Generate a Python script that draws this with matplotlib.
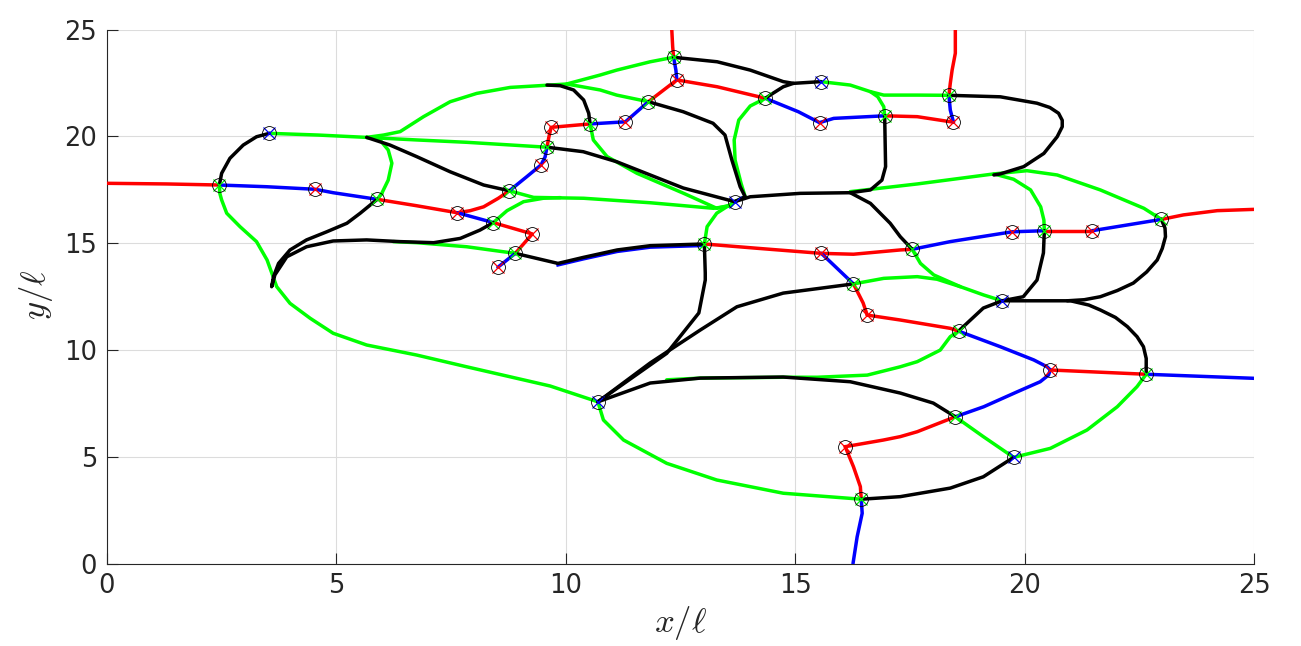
import matplotlib
matplotlib.use("Agg")
import matplotlib.pyplot as plt
from matplotlib import transforms

plt.rcParams['mathtext.fontset'] = 'cm'
plt.rcParams['font.family'] = ['DejaVu Sans']

# ---- red edges
red_in_left = [(0.00, 17.80), (1.30, 17.77), (2.45, 17.72)]
red_4_5 = [(5.89, 17.05), (6.75, 16.75), (7.64, 16.42)]
red_5_7 = [(7.64, 16.42), (7.92, 16.52), (8.21, 16.70), (8.53, 17.10), (8.77, 17.45)]
red_6_9 = [(8.42, 15.96), (9.27, 15.43), (8.90, 14.52)]
red_12_14 = [(9.59, 19.49), (9.63, 19.95), (9.68, 20.42), (10.53, 20.58)]
red_16_19 = [(11.80, 21.62), (12.42, 22.64), (13.30, 22.32), (14.35, 21.78)]
red_top_a = [(12.31, 25.00), (12.33, 24.19), (12.35, 23.70)]
red_22_29 = [(16.95, 20.96), (17.66, 20.92), (18.45, 20.66)]
red_top_b = [(18.49, 25.00), (18.49, 23.89), (18.42, 23.10), (18.38, 22.48), (18.35, 21.92)]
red_24_30 = [(13.02, 14.96), (14.16, 14.76), (15.57, 14.52), (16.27, 14.48), (17.29, 14.68), (17.55, 14.71)]
red_32_33 = [(20.43, 15.58), (21.47, 15.58)]
red_out_right = [(22.98, 16.11), (23.46, 16.32), (24.20, 16.52), (25.00, 16.58)]
red_26_27 = [(16.27, 13.09), (16.48, 12.20), (16.57, 11.63)]
red_27_36 = [(16.57, 11.63), (17.29, 11.40), (18.38, 11.01), (18.56, 10.88)]
red_37_38 = [(20.56, 9.06), (22.65, 8.86)]
red_39_42 = [(18.49, 6.87), (17.66, 6.17), (17.29, 5.94), (16.92, 5.78), (16.09, 5.47)]
red_42_43 = [(16.09, 5.47), (16.27, 4.53), (16.42, 3.60), (16.44, 3.01)]

# ---- blue edges
blue_1_4 = [(2.45, 17.72), (3.48, 17.64), (4.54, 17.52), (4.93, 17.36), (5.89, 17.05)]
blue_5_6 = [(7.64, 16.42), (8.42, 15.96)]
blue_9_10 = [(8.90, 14.52), (8.52, 13.87)]
blue_7_12 = [(8.77, 17.45), (9.15, 18.11), (9.46, 18.66), (9.55, 19.04), (9.59, 19.49)]
blue_14_16 = [(10.53, 20.58), (11.30, 20.68), (11.80, 21.62)]
blue_17_18 = [(12.35, 23.70), (12.40, 23.10), (12.42, 22.64)]
blue_19_22 = [(14.35, 21.78), (15.07, 21.15), (15.53, 20.64), (15.84, 20.84), (16.95, 20.96)]
blue_28_29 = [(18.35, 21.92), (18.38, 21.23), (18.45, 20.66)]
blue_9_24 = [(9.83, 14.05), (10.38, 14.33), (11.12, 14.68), (11.84, 14.88), (13.02, 14.96)]
blue_25_26 = [(15.57, 14.52), (15.83, 13.99), (16.27, 13.09)]
blue_30_32 = [(17.55, 14.71), (18.38, 15.07), (19.73, 15.53), (20.43, 15.58)]
blue_33_34 = [(21.47, 15.58), (22.98, 16.11)]
blue_36_37 = [(18.56, 10.88), (19.47, 10.15), (20.20, 9.53), (20.49, 9.21), (20.56, 9.06)]
blue_37_39 = [(20.56, 9.06), (20.52, 8.82), (20.34, 8.51), (19.84, 8.04), (19.11, 7.34), (18.49, 6.87)]
blue_out_right = [(22.65, 8.86), (25.00, 8.67)]
blue_out_bottom = [(16.44, 3.01), (16.46, 2.35), (16.35, 1.25), (16.26, 0.00)]

# ---- black edges
black_1_2 = [(2.45, 17.72), (2.50, 18.27), (2.68, 18.97), (2.97, 19.59), (3.26, 19.98), (3.54, 20.14)]
black_j_7 = [(5.66, 19.95), (6.17, 19.59), (6.75, 19.05), (7.48, 18.34), (8.21, 17.72), (8.77, 17.45)]
black_loop = [(5.89, 17.05), (5.52, 16.40), (5.23, 15.93), (4.79, 15.53), (4.35, 15.15), (3.99, 14.68),
              (3.74, 14.05), (3.63, 13.43), (3.59, 12.96), (3.66, 13.51), (3.92, 14.36), (4.35, 14.83),
              (4.93, 15.10), (5.66, 15.15), (6.39, 15.07), (7.12, 15.02), (7.70, 15.22), (8.13, 15.61),
              (8.42, 15.96)]
black_9_24 = [(8.90, 14.52), (9.83, 14.05), (10.38, 14.33), (11.12, 14.68), (11.84, 14.88), (13.02, 14.96)]
black_12_23 = [(9.59, 19.49), (10.38, 19.28), (11.11, 18.81), (11.84, 18.19), (12.56, 17.58), (13.68, 16.94)]
black_14_top = [(10.53, 20.58), (10.50, 21.08), (10.39, 21.70), (10.17, 22.17), (9.88, 22.37), (9.59, 22.40)]
black_16_23 = [(11.80, 21.62), (12.56, 21.15), (13.21, 20.61), (13.47, 20.06), (13.62, 18.89),
               (13.80, 17.64), (13.91, 17.17), (13.68, 16.94)]
black_17_20 = [(12.35, 23.70), (13.30, 23.49), (14.02, 23.10), (14.74, 22.56), (14.96, 22.48), (15.56, 22.56)]
black_j_19 = [(14.96, 22.48), (14.74, 22.32), (14.49, 21.98), (14.35, 21.78)]
black_22_23 = [(16.95, 20.96), (16.97, 18.58), (16.89, 17.95), (16.64, 17.49), (16.20, 17.36),
               (15.11, 17.33), (14.02, 17.17), (13.68, 16.94)]
black_k_30 = [(16.20, 17.36), (16.64, 16.86), (17.07, 15.93), (17.29, 15.30), (17.55, 14.71)]
black_28_loop = [(18.35, 21.92), (19.47, 21.85), (20.27, 21.55), (20.55, 21.35), (20.74, 21.08),
                 (20.82, 20.75), (20.82, 20.45), (20.71, 19.98), (20.42, 19.20), (19.98, 18.58),
                 (19.47, 18.24), (19.33, 18.19)]
black_32_35 = [(20.43, 15.58), (20.41, 14.54), (20.27, 13.27), (19.97, 12.49), (19.51, 12.30)]
black_34_k = [(22.98, 16.11), (23.06, 15.70), (23.07, 15.30), (23.00, 14.75), (22.89, 14.21),
              (22.66, 13.65), (22.37, 13.13), (22.02, 12.78), (21.65, 12.49), (21.30, 12.35), (20.93, 12.30)]
black_35_38 = [(19.51, 12.30), (20.30, 12.30), (21.00, 12.30), (21.40, 12.10), (21.65, 11.87),
               (21.98, 11.52), (22.24, 11.09), (22.45, 10.62), (22.59, 10.15), (22.65, 9.60), (22.65, 8.86)]
black_35_36 = [(19.51, 12.30), (19.10, 11.96), (18.56, 10.88)]
black_24_41 = [(13.02, 14.96), (13.04, 13.60), (13.04, 13.27), (12.90, 11.73), (12.20, 9.84),
               (11.48, 8.75), (10.70, 7.57)]
black_41_26 = [(10.70, 7.57), (11.84, 9.39), (12.93, 10.93), (13.73, 12.02), (14.74, 12.66), (16.27, 13.09)]
black_41_39 = [(10.70, 7.57), (11.84, 8.45), (12.93, 8.68), (14.74, 8.73), (16.20, 8.51),
               (17.29, 7.98), (18.01, 7.51), (18.49, 6.87)]
black_43_40 = [(16.44, 3.01), (17.29, 3.13), (18.38, 3.53), (19.10, 4.06), (19.76, 4.97)]

# ---- green edges
green_2_j = [(3.54, 20.14), (4.60, 20.06), (5.66, 19.95)]
green_j_17 = [(5.66, 19.95), (6.03, 20.06), (6.39, 20.22), (6.90, 20.92), (7.48, 21.62), (8.06, 22.01),
              (8.79, 22.29), (9.66, 22.40), (10.02, 22.45), (10.75, 22.87), (11.11, 23.10),
              (11.84, 23.49), (12.35, 23.70)]
green_j_12 = [(5.66, 19.95), (6.75, 19.83), (7.84, 19.72), (9.59, 19.49)]
green_loop_4 = [(5.66, 19.95), (5.95, 19.83), (6.13, 19.36), (6.21, 18.74), (6.13, 17.95), (5.99, 17.33), (5.89, 17.05)]
green_1_41 = [(2.45, 17.72), (2.46, 17.33), (2.50, 17.02), (2.61, 16.40), (2.90, 15.77), (3.26, 15.07),
              (3.49, 14.21), (3.70, 12.96), (3.99, 12.18), (4.43, 11.48), (4.93, 10.78), (5.66, 10.23),
              (6.75, 9.76), (7.84, 9.21), (9.66, 8.31), (10.70, 7.57)]
green_k_16 = [(10.02, 22.45), (10.75, 22.17), (11.11, 21.93), (11.80, 21.62)]
green_14_23 = [(10.53, 20.58), (10.60, 19.83), (10.90, 19.05), (11.55, 18.27), (12.57, 17.33),
               (13.29, 16.63), (13.59, 16.78), (13.68, 16.94)]
green_7_23 = [(8.77, 17.45), (9.30, 17.14), (10.39, 17.10), (11.84, 16.89), (13.22, 16.63), (13.59, 16.74), (13.68, 16.94)]
green_6_m = [(8.42, 15.96), (8.72, 16.52), (9.08, 16.94), (9.51, 17.10), (9.88, 17.13)]
green_in_9 = [(6.24, 15.07), (6.75, 15.02), (7.84, 14.83), (8.90, 14.52)]
green_23_24 = [(13.68, 16.94), (13.29, 16.40), (13.08, 15.77), (13.02, 14.96)]
green_19_23 = [(14.35, 21.78), (14.02, 21.42), (13.77, 20.76), (13.67, 19.83), (13.69, 18.89),
               (13.82, 17.80), (13.91, 17.17), (13.68, 16.94)]
green_20_28 = [(15.56, 22.56), (16.20, 22.40), (16.64, 22.09), (16.93, 21.93), (17.66, 21.93), (18.35, 21.92)]
green_m_22 = [(16.64, 22.09), (16.80, 21.85), (16.93, 21.39), (16.95, 20.96)]
green_k_34 = [(16.20, 17.41), (17.66, 17.77), (19.33, 18.24), (20.05, 18.39), (20.71, 18.19),
              (21.65, 17.49), (22.60, 16.63), (22.98, 16.11)]
green_m_32 = [(19.33, 18.24), (19.76, 17.99), (20.13, 17.49), (20.35, 16.70), (20.42, 16.08), (20.43, 15.58)]
green_30_35 = [(17.55, 14.71), (17.73, 14.05), (18.02, 13.51), (18.60, 12.96), (19.11, 12.57), (19.51, 12.30)]
green_26_m = [(16.27, 13.09), (16.93, 13.35), (17.66, 13.43), (18.09, 13.31), (18.60, 12.96)]
green_36_m = [(18.56, 10.88), (18.38, 10.62), (18.16, 9.99), (17.66, 9.45), (17.29, 9.21), (16.57, 8.82),
              (15.48, 8.72), (14.75, 8.72), (12.93, 8.68), (12.20, 8.60)]
green_39_40 = [(18.49, 6.87), (19.10, 5.94), (19.76, 4.97)]
green_40_38 = [(19.76, 4.97), (20.56, 5.39), (21.36, 6.25), (22.02, 7.34), (22.45, 8.28), (22.65, 8.86)]
green_41_43 = [(10.70, 7.57), (10.82, 6.72), (11.26, 5.78), (12.20, 4.69), (13.29, 3.91), (14.74, 3.29), (16.44, 3.01)]

# ---- nodes (circle + coloured cross)
node_x = [2.45, 3.54, 4.54, 5.89, 7.64, 8.42, 8.77, 9.27, 8.90, 8.52, 9.46, 9.59, 9.68, 10.53, 11.30,
          11.80, 12.35, 12.42, 14.35, 15.56, 15.53, 16.95, 13.68, 13.02, 15.57, 16.27, 16.57, 18.35,
          18.45, 17.55, 19.73, 20.43, 21.47, 22.98, 19.51, 18.56, 20.56, 22.65, 18.49, 19.76, 10.70,
          16.09, 16.44]
node_y = [17.72, 20.14, 17.52, 17.05, 16.42, 15.96, 17.45, 15.43, 14.52, 13.87, 18.66, 19.49, 20.42,
          20.58, 20.68, 21.62, 23.70, 22.64, 21.78, 22.56, 20.64, 20.96, 16.94, 14.96, 14.52, 13.09,
          11.63, 21.92, 20.66, 14.71, 15.53, 15.58, 15.58, 16.11, 12.30, 10.88, 9.06, 8.86, 6.87, 4.97,
          7.57, 5.47, 3.01]
node_c = ['g', 'b', 'r', 'g', 'r', 'g', 'g', 'r', 'g', 'r', 'r', 'g', 'r', 'g', 'r',
          'g', 'g', 'r', 'g', 'b', 'r', 'g', 'b', 'g', 'r', 'g', 'r', 'g',
          'r', 'g', 'r', 'g', 'r', 'g', 'b', 'g', 'r', 'g', 'g', 'b', 'b',
          'r', 'g']

red_edges = [red_in_left, red_4_5, red_5_7, red_6_9, red_12_14, red_16_19, red_top_a, red_22_29,
             red_top_b, red_24_30, red_32_33, red_out_right, red_26_27, red_27_36, red_37_38,
             red_39_42, red_42_43]
blue_edges = [blue_1_4, blue_5_6, blue_9_10, blue_7_12, blue_14_16, blue_17_18, blue_19_22,
              blue_28_29, blue_25_26, blue_30_32, blue_33_34, blue_36_37, blue_37_39,
              blue_out_right, blue_out_bottom]
black_edges = [black_1_2, black_j_7, black_loop, black_9_24, black_12_23, black_14_top, black_16_23,
               black_17_20, black_j_19, black_22_23, black_k_30, black_28_loop, black_32_35,
               black_34_k, black_35_38, black_35_36, black_24_41, black_41_26, black_41_39, black_43_40]
green_edges = [green_2_j, green_j_17, green_j_12, green_loop_4, green_1_41, green_k_16, green_14_23,
               green_7_23, green_6_m, green_in_9, green_23_24, green_19_23, green_20_28, green_m_22,
               green_k_34, green_m_32, green_30_35, green_26_m, green_36_m, green_39_40, green_40_38,
               green_41_43]

colours = {'r': (1, 0, 0), 'b': (0, 0, 1), 'g': (0, 1, 0), 'k': (0, 0, 0)}
LW = 2.5

fig = plt.figure(figsize=(13.01, 6.46), dpi=100)
ax = fig.add_axes([0.0822, 0.1277, 0.8817, 0.8266])


def draw(edges, col, z, **kw):
    for e in edges:
        xs = [p[0] for p in e]
        ys = [p[1] for p in e]
        ax.plot(xs, ys, color=col, lw=LW, zorder=z, solid_joinstyle='round',
                solid_capstyle='round', **kw)


draw(green_edges, colours['g'], 2)
draw(red_edges, colours['r'], 3)
draw(blue_edges, colours['b'], 3)
# blue edge that runs just under a black one
shift = transforms.offset_copy(ax.transData, fig=fig, x=0, y=-1.5, units='dots')
ax.plot([p[0] for p in blue_9_24], [p[1] for p in blue_9_24], color=colours['b'], lw=LW,
        zorder=3, transform=shift, solid_joinstyle='round')
draw(black_edges, colours['k'], 4)

for x, y, c in zip(node_x, node_y, node_c):
    ax.plot(x, y, 'x', color=colours[c], ms=8, mew=0.9, zorder=5)
    ax.plot(x, y, 'o', mfc='none', mec='k', ms=10, mew=0.6, zorder=6)

ax.set_xlim(0, 25)
ax.set_ylim(0, 25)
ax.set_xticks([0, 5, 10, 15, 20, 25])
ax.set_yticks([0, 5, 10, 15, 20, 25])
ax.grid(True, color='#dcdcdc', lw=0.8)
ax.set_axisbelow(True)
for s in ['top', 'right']:
    ax.spines[s].set_visible(False)
for s in ['left', 'bottom']:
    ax.spines[s].set_color('#262626')
    ax.spines[s].set_linewidth(0.8)
ax.tick_params(direction='in', length=8, width=0.8, colors='#262626', labelsize=18.5, pad=7)

ax.set_xlabel(r'$x/\ell$', fontsize=25, color='#262626')
ax.set_ylabel(r'$y/\ell$', fontsize=25, color='#262626')
ax.xaxis.set_label_coords(0.5, -0.075)
ax.yaxis.set_label_coords(-0.045, 0.503)

fig.savefig('out.png', dpi=100)
